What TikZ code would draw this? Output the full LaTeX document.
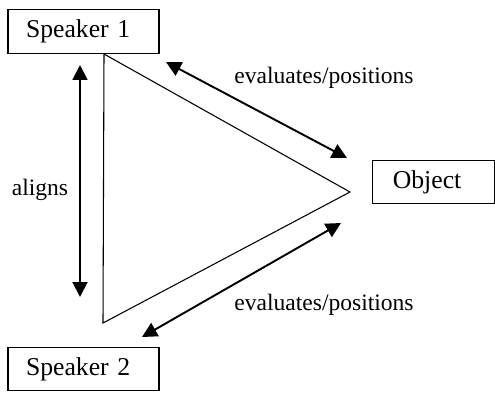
\documentclass[tikz,border=0pt]{standalone}
\usepackage{fontspec}
\setmainfont{Liberation Serif}
\usetikzlibrary{arrows.meta}

\begin{document}
\begin{tikzpicture}[x=0.467pt,y=-0.467pt,
      every node/.style={font=\fontsize{12}{14}\selectfont},
      partbox/.style={draw,rectangle,line width=0.5pt,minimum height=20.5pt,
        inner xsep=8.4pt,align=left},
      lbl/.style={font=\fontsize{11}{13}\selectfont},
      rel/.style={line width=0.9pt,{Triangle[length=7pt,width=7pt]}-{Triangle[length=7pt,width=7pt]}}]
      \useasboundingbox (0,0) rectangle (495,392);
      \node[partbox,text width=53.7pt] (spk1) at (83.5,31.5) {Speaker 1};
      \node[partbox,text width=53.7pt] (spk2) at (83.5,369) {Speaker 2};
      \node[partbox,text width=38pt,inner xsep=9.3pt] (obj) at (433.5,182) {Object};
      % triangle
      \coordinate (top) at (104,54);
      \coordinate (bot) at (103,323);
      \coordinate (tip) at (350,192);
      \draw[line width=0.5pt] (top) -- (tip) -- (bot) -- cycle;
      % arrows
      \coordinate (a1) at (80,65);
      \coordinate (a2) at (80,297);
      \coordinate (u1) at (166,62);
      \coordinate (u2) at (347,158);
      \coordinate (l1) at (341,223);
      \coordinate (l2) at (142,337);
      \draw[rel] (a1) -- (a2);
      \draw[rel] (u1) -- (u2);
      \draw[rel] (l1) -- (l2);
      \node[lbl] (alg) at (40,190) {aligns};
      \node[lbl] (ev1) at (324,78) {evaluates/positions};
      \node[lbl] (ev2) at (324,305) {evaluates/positions};
    \end{tikzpicture}
\end{document}
